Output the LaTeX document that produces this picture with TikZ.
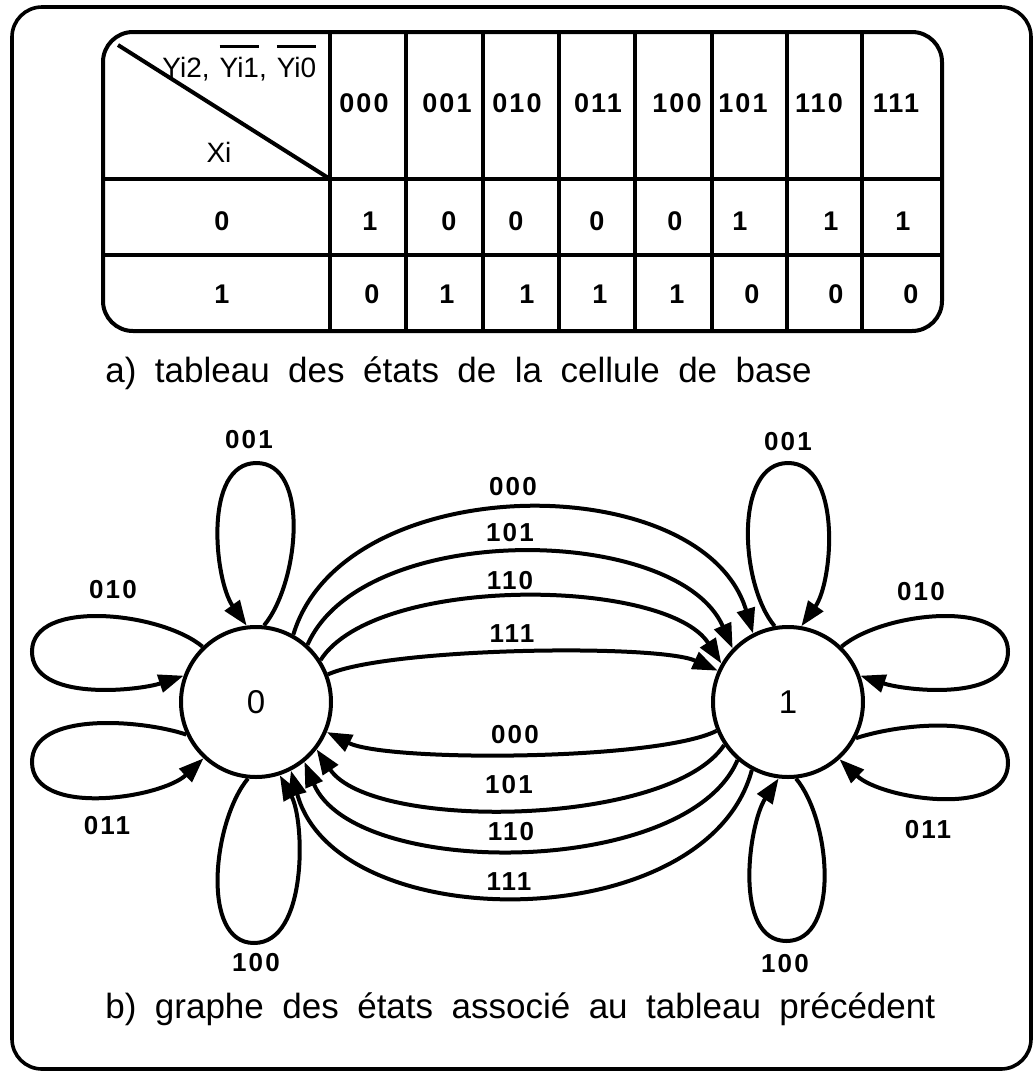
\documentclass[tikz,border=0pt]{standalone}
\usepackage{fontspec}
\setmainfont{Liberation Sans}
\newfontfamily\capfont{Liberation Sans}[WordSpace=1.9]
\newfontfamily\lblfont{Liberation Sans}[LetterSpace=8]
\usetikzlibrary{arrows.meta}
\newcommand\ovl[1]{\vbox{\hrule height 1.5pt\kern 4.5pt\hbox{#1}}}
\tikzset{
  frame/.style={line width=1.8pt, rounded corners=15pt},
  gridline/.style={line width=2pt},
  state/.style={circle, draw, line width=2pt, minimum size=75pt, inner sep=0pt,
    font=\fontsize{16.5}{16.5}\selectfont},
  lbl/.style={font=\lblfont\bfseries\fontsize{13}{14}\selectfont, inner sep=0pt},
  tab/.style={font=\lblfont\bfseries\fontsize{13.5}{14}\selectfont, inner sep=0pt},
  hdr/.style={font=\fontsize{14}{15}\selectfont, inner sep=0pt},
  edge/.style={line width=2pt, -{Triangle[length=12.5pt,width=9pt]}},
  captxt/.style={font=\capfont\fontsize{17.5}{20}\selectfont, inner sep=0pt, anchor=base west},
}
\begin{document}
\begin{tikzpicture}[x=0.5pt,y=-0.5pt]
\useasboundingbox (0,0) rectangle (1034,1073);
\draw[frame] (12,7) rectangle (1031,1069);
% table
\draw[gridline, rounded corners=15pt] (103,32) rectangle (942,331);
\foreach \x in {330,406,483,559,635,712,787,862} \draw[gridline] (\x,32) -- (\x,331);
\draw[gridline] (103,179) -- (942,179);
\draw[gridline] (103,255) -- (942,255);
\draw[gridline] (118,45) -- (330,179);
\node[hdr, anchor=base west] (hy) at (162,77) {Yi2,\hspace{5pt}\ovl{Yi1},\hspace{5pt}\ovl{Yi0}};
\node[hdr] (hx) at (219,152) {Xi};
\node[tab] (c0) at (364,103) {000};
\node[tab] (c1) at (447,103) {001};
\node[tab] (c2) at (517,103) {010};
\node[tab] (c3) at (598,103) {011};
\node[tab] (c4) at (677,103) {100};
\node[tab] (c5) at (743,103) {101};
\node[tab] (c6) at (819,103) {110};
\node[tab] (c7) at (896,103) {111};
\node[tab] (r0) at (222,221) {0};
\node[tab] (r1) at (222,294) {1};
\node[tab] (a0) at (370,221) {1};
\node[tab] (a1) at (449,221) {0};
\node[tab] (a2) at (516,221) {0};
\node[tab] (a3) at (597,221) {0};
\node[tab] (a4) at (675,221) {0};
\node[tab] (a5) at (740,221) {1};
\node[tab] (a6) at (831,221) {1};
\node[tab] (a7) at (903,221) {1};
\node[tab] (b0) at (372,294) {0};
\node[tab] (b1) at (447,294) {1};
\node[tab] (b2) at (527,294) {1};
\node[tab] (b3) at (600,294) {1};
\node[tab] (b4) at (677,294) {1};
\node[tab] (b5) at (752,294) {0};
\node[tab] (b6) at (836,294) {0};
\node[tab] (b7) at (911,294) {0};
\node[captxt] (capa) at (105,382) {a) tableau des états de la cellule de base};
% graph
\node[state] (n0) at (256,702) {0};
\node[state] (n1) at (788,702) {1};
% loops on 0
\draw[edge] (n0.84) .. controls +(35,-42) and +(54,0) .. (256.5,463)
                    .. controls +(-54,0) and +(-32,-45) .. (n0.97);
\draw[edge] (n0.134) .. controls +(-42,-35) and +(0,-53) .. (32,651.5)
                     .. controls +(0,51) and +(-45,15) .. (n0.160);
\draw[edge] (n0.205) .. controls +(-45,-15) and +(0,-51) .. (32,762)
                     .. controls +(0,56) and +(-42,40) .. (n0.227);
\draw[edge] (n0.264) .. controls +(-35,42) and +(-54,0) .. (254,943)
                     .. controls +(54,0) and +(25,45) .. (n0.-72);
% loops on 1
\draw[edge] (n1.100) .. controls +(-35,-42) and +(-54,0) .. (788,463)
                     .. controls +(54,0) and +(32,-45) .. (n1.80);
\draw[edge] (n1.46) .. controls +(42,-35) and +(0,-53) .. (1008,651.5)
                    .. controls +(0,51) and +(45,15) .. (n1.20);
\draw[edge] (n1.-28) .. controls +(45,-15) and +(0,-51) .. (1008,763)
                     .. controls +(0,56) and +(42,40) .. (n1.-48);
\draw[edge] (n1.-84) .. controls +(35,42) and +(54,0) .. (786.5,941)
                     .. controls +(-54,0) and +(-30,45) .. (n1.-97);
% 0 -> 1
\draw[edge] (n0.61) .. controls +(50,-167) and +(-50,-167) .. (n1.117);
\draw[edge] (n0.48) .. controls +(55,-125) and +(-55,-125) .. (n1.136);
\draw[edge] (n0.33) .. controls +(55,-86) and +(-55,-86) .. (n1.150);
\draw[edge] (n0.21) .. controls +(60,-27) and +(-60,-27) .. (n1.156);
% 1 -> 0
\draw[edge] (n1.202) .. controls +(-60,30) and +(60,30) .. (n0.-23);
\draw[edge] (n1.214) .. controls +(-55,82) and +(55,82) .. (n0.-38);
\draw[edge] (n1.229) .. controls +(-50,118) and +(50,118) .. (n0.-51);
\draw[edge] (n1.242) .. controls +(-45,168) and +(45,168) .. (n0.-63);
% loop labels
\node[lbl] (l0a) at (249,440) {001};
\node[lbl] (l0b) at (113,590) {010};
\node[lbl] (l0c) at (107,826) {011};
\node[lbl] (l0d) at (256,963) {100};
\node[lbl] (l1a) at (788,442) {001};
\node[lbl] (l1b) at (921,592) {010};
\node[lbl] (l1c) at (928,830) {011};
\node[lbl] (l1d) at (785,964) {100};
% edge labels
\node[lbl] (t1) at (513,487) {000};
\node[lbl] (t2) at (510,533) {101};
\node[lbl] (t3) at (510,581) {110};
\node[lbl] (t4) at (512,634) {111};
\node[lbl] (u1) at (515,735) {000};
\node[lbl] (u2) at (509,785) {101};
\node[lbl] (u3) at (511,832) {110};
\node[lbl] (u4) at (509,882) {111};
\node[captxt] (capb) at (105,1018) {b) graphe des états associé au tableau précédent};
\end{tikzpicture}
\end{document}
